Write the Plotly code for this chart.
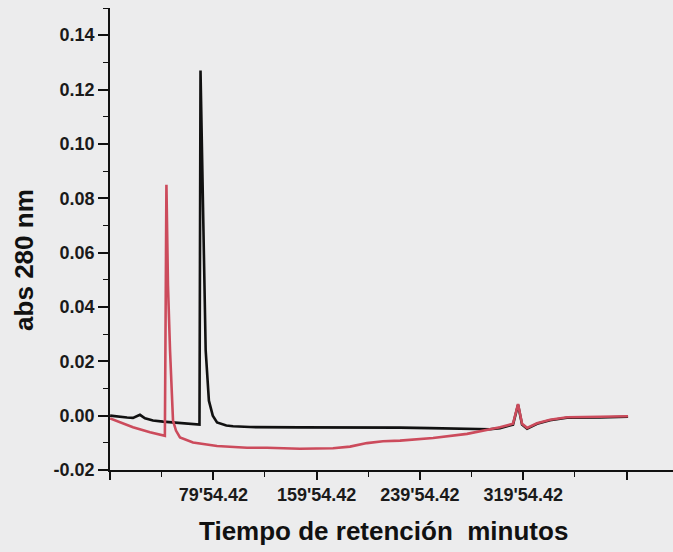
import plotly.graph_objects as go

# Retention time (minutes) and absorbance at 280 nm for the two runs
black_time = [0.0, 7.7, 13.1, 17.7, 23.1, 27.0, 33.2, 41.0, 47.9, 54.1, 64.2, 69.2,
              70.0, 71.0, 72.4, 74.0, 76.5, 79.5, 82.8, 90.0, 95.2, 108.3, 147.0,
              185.8, 224.5, 247.7, 271.0, 286.5, 294.2, 301.9, 312.0, 315.9, 319.0,
              322.9, 330.6, 340.7, 353.8, 379.4, 401.1]
black_abs = [0.000, -0.0005, -0.0007, -0.0008, 0.0003, -0.0010, -0.0018, -0.0022, -0.0025,
             -0.0028, -0.0032, -0.0033, 0.127, 0.097, 0.060, 0.024, 0.0055, 0.000, -0.0025,
             -0.0036, -0.0039, -0.0042, -0.0043, -0.0043, -0.0044, -0.0046, -0.0049,
             -0.0049, -0.0050, -0.0046, -0.0033, 0.0040, -0.0033, -0.0048, -0.0030,
             -0.0017, -0.0008, -0.0007, -0.0004]

red_time = [0.0, 7.7, 17.7, 30.9, 41.0, 42.4, 43.6, 44.8, 46.4, 47.9, 48.7, 51.0, 54.1,
            64.2, 82.8, 106.0, 121.5, 147.0, 172.6, 185.8, 198.9, 211.3, 224.5, 250.1,
            276.4, 301.9, 312.0, 315.9, 319.0, 322.9, 330.6, 340.7, 353.8, 379.4, 401.1]
red_abs = [-0.0010, -0.0024, -0.0043, -0.0061, -0.0073, -0.0074, 0.085, 0.048, 0.024,
           0.0055, -0.0018, -0.0055, -0.0080, -0.0099, -0.0112, -0.0118, -0.0118,
           -0.0122, -0.0120, -0.0114, -0.0101, -0.0094, -0.0092, -0.0082, -0.0067,
           -0.0043, -0.0030, 0.0043, -0.0030, -0.0045, -0.0028, -0.0015, -0.0006,
           -0.0004, -0.0002]

# Axis ticks
x_major = [-0.093, 79.907, 159.907, 239.907, 319.907, 399.907]
x_major_text = ["", "79'54.42", "159'54.42", "239'54.42", "319'54.42", ""]
x_minor = [39.907, 119.907, 199.907, 279.907, 359.907]
y_major = [-0.02, 0.00, 0.02, 0.04, 0.06, 0.08, 0.10, 0.12, 0.14]
y_major_text = ["-0.02", "0.00", "0.02", "0.04", "0.06", "0.08", "0.10", "0.12", "0.14"]

BG = "#ececed"
FONT = "Liberation Sans, Arial, sans-serif"

fig = go.Figure()
fig.add_trace(go.Scatter(x=black_time, y=black_abs, mode="lines",
                         line=dict(color="#111111", width=2.6), hoverinfo="skip"))
fig.add_trace(go.Scatter(x=red_time, y=red_abs, mode="lines",
                         line=dict(color="#cc4b5c", width=2.6), hoverinfo="skip"))

fig.update_layout(
    width=673, height=552,
    margin=dict(l=110, r=0, t=8, b=82),
    paper_bgcolor=BG, plot_bgcolor=BG,
    showlegend=False,
    font=dict(family=FONT, color="#1a1a1a"),
)

tick_font = dict(family=FONT, size=18, weight="bold", color="#1a1a1a")

fig.update_xaxes(
    range=[-0.093, 435.9], showgrid=False, zeroline=False,
    showline=True, linecolor="#111111", linewidth=1.6,
    tickmode="array", tickvals=x_major, ticktext=x_major_text,
    ticks="outside", ticklen=8, tickwidth=1.6, tickcolor="#111111",
    tickfont=tick_font,
    minor=dict(tickvals=x_minor, ticks="outside", ticklen=5, tickwidth=1.4,
               tickcolor="#111111"),
)
fig.update_yaxes(
    range=[-0.02, 0.15], showgrid=False, zeroline=False,
    showline=True, linecolor="#111111", linewidth=1.6,
    tickmode="array", tickvals=y_major, ticktext=y_major_text,
    ticks="outside", ticklen=10, tickwidth=1.6, tickcolor="#111111",
    tickfont=tick_font,
    minor=dict(dtick=0.01, tick0=0, ticks="outside", ticklen=5, tickwidth=1.4,
               tickcolor="#111111"),
)

fig.add_annotation(text="Tiempo de retención  minutos", xref="paper", yref="paper",
                   x=0.485, y=-0.132, showarrow=False, xanchor="center", yanchor="middle",
                   font=dict(family=FONT, size=26, weight="bold", color="#111111"))
fig.add_annotation(text="abs 280 nm", xref="paper", yref="paper",
                   x=-0.153, y=0.4545, showarrow=False, xanchor="center", yanchor="middle",
                   textangle=-90,
                   font=dict(family=FONT, size=26, weight="bold", color="#111111"))

fig.write_html("out.html")
